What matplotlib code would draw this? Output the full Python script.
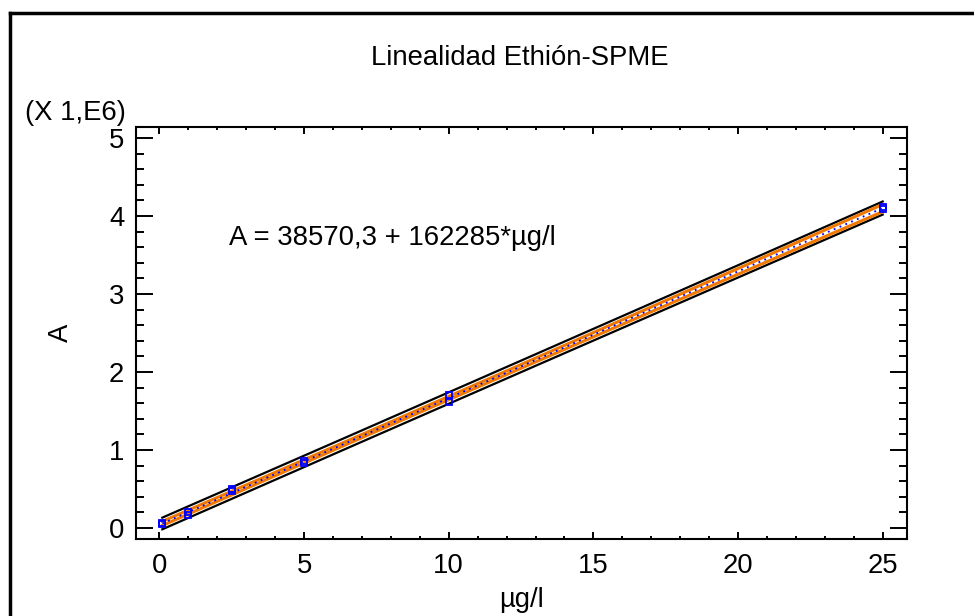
import matplotlib

matplotlib.use("Agg")

import matplotlib.pyplot as plt
import numpy as np
from matplotlib.lines import Line2D
from matplotlib.ticker import MultipleLocator

# concentration (µg/l) and area response (x 1E6)
conc = [0.1, 0.1, 1.0, 1.0, 2.5, 2.5, 5.0, 5.0, 10.0, 10.0, 25.0, 25.0]
area = [0.05, 0.06, 0.17, 0.21, 0.47, 0.50, 0.83, 0.86, 1.61, 1.70, 4.09, 4.12]

title = "Linealidad Ethión-SPME"
equation = "A = 38570,3 + 162285*µg/l"
x_label = "µg/l"
y_label = "A"
scale_note = "(X 1,E6)"
T_95 = 2.228  # t(0.975, df=10)

FONT = ["Liberation Sans", "DejaVu Sans"]
FS = 19.8


def main():
    plt.rcParams["font.family"] = FONT
    x = np.array(conc)
    y = np.array(area)
    n = len(x)
    slope, intercept = np.polyfit(x, y, 1)
    resid = y - (intercept + slope * x)
    s = np.sqrt(np.sum(resid ** 2) / (n - 2))
    sxx = np.sum((x - x.mean()) ** 2)

    xs = np.linspace(x.min(), x.max(), 200)
    fit = intercept + slope * xs
    conf = T_95 * s * np.sqrt(1 / n + (xs - x.mean()) ** 2 / sxx)
    pred = T_95 * s * np.sqrt(1 + 1 / n + (xs - x.mean()) ** 2 / sxx)

    fig = plt.figure(figsize=(9.74, 6.16), dpi=100, facecolor="white")
    ax = fig.add_axes([0.1396, 0.125, 0.9309 - 0.1396, 0.7938 - 0.125])

    ax.plot(xs, fit + pred, color="black", lw=1.6)
    ax.plot(xs, fit - pred, color="black", lw=1.6)
    ax.plot(xs, fit + conf, color="#F07800", lw=2.2)
    ax.plot(xs, fit - conf, color="#F07800", lw=2.2)
    ax.plot(xs, fit, color="#0000FF", lw=1.3, ls=(0, (1, 2.5)))
    ax.plot(x, y, ls="none", marker="s", ms=5, mfc="none", mec="#0000FF", mew=1.3)

    ax.set_xlim(-0.81, 25.83)
    ax.set_ylim(-0.14, 5.14)
    ax.xaxis.set_major_locator(MultipleLocator(5))
    ax.xaxis.set_minor_locator(MultipleLocator(1))
    ax.yaxis.set_major_locator(MultipleLocator(1))
    ax.yaxis.set_minor_locator(MultipleLocator(0.2))

    ax.tick_params(axis="both", which="both", direction="in", top=True, right=True,
                   labelsize=FS, colors="black", width=1.4)
    ax.tick_params(axis="y", which="major", length=12, pad=8.5)
    ax.tick_params(axis="y", which="minor", length=6)
    ax.tick_params(axis="x", which="major", length=5, pad=10)
    ax.tick_params(axis="x", which="minor", length=2.5)
    for sp in ax.spines.values():
        sp.set_linewidth(1.5)

    ax.set_xlabel(x_label, fontsize=FS, labelpad=6)
    ax.set_ylabel(y_label, fontsize=FS, labelpad=25)
    ax.text(2.42, 3.72, equation, fontsize=FS, va="center", ha="left")

    fig.text(520 / 974, 1 - 58 / 616, title, fontsize=FS, ha="center", va="center")
    fig.text(25 / 974, 1 - 113 / 616, scale_note, fontsize=FS, ha="left", va="center")

    # frame lines along the left and top edges
    fig.add_artist(Line2D([10 / 974, 10 / 974], [0, 1 - 13 / 616], color="black", lw=2.5,
                          transform=fig.transFigure))
    fig.add_artist(Line2D([10 / 974, 1], [1 - 13 / 616, 1 - 13 / 616], color="black", lw=2.5,
                          transform=fig.transFigure))

    fig.savefig("out.png", dpi=100, facecolor="white")
    plt.close(fig)


if __name__ == "__main__":
    main()
